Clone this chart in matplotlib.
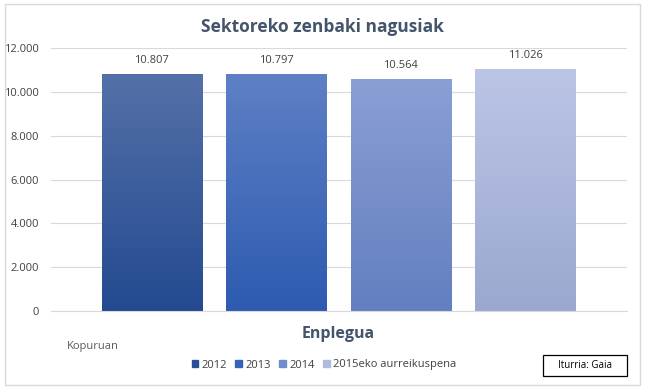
import numpy as np
import matplotlib
matplotlib.use('Agg')
import matplotlib.pyplot as plt
from matplotlib.colors import LinearSegmentedColormap
from matplotlib.patches import Rectangle

plt.rcParams['font.family'] = ['Open Sans', 'DejaVu Sans']

# data
series = ['2012', '2013', '2014', '2015eko aurreikuspena']
values = [10807, 10797, 10564, 11026]
labels = ['10.807', '10.797', '10.564', '11.026']
yticks = [0, 2000, 4000, 6000, 8000, 10000, 12000]
ytick_labels = ['0', '2.000', '4.000', '6.000', '8.000', '10.000', '12.000']

# gradient colours (top, bottom) for every bar
top_cols = ['#5470a8', '#5e80c5', '#8a9fd4', '#bcc5e6']
bot_cols = ['#234a90', '#2d5bb0', '#627fc0', '#9aa8cf']
legend_cols = ['#2a4f95', '#3563b8', '#6f8bcb', '#b0bbdf']

W, H = 645, 387
fig = plt.figure(figsize=(W / 100, H / 100), dpi=100)
fig.patch.set_facecolor('white')

# outer chart border
fig.patches.append(Rectangle((5 / W, 2 / H), 635 / W, 381 / H, transform=fig.transFigure,
                             fill=False, edgecolor='#d9d9d9', linewidth=1))

ax = fig.add_axes([51 / W, (H - 311) / H, 576 / W, 263 / H])

x = np.arange(len(values))
bars = ax.bar(x, values, width=0.805, color='none', edgecolor='none', zorder=2)
for i, b in enumerate(bars):
    cmap = LinearSegmentedColormap.from_list('g%d' % i, [bot_cols[i], top_cols[i]])
    grad = np.linspace(0, 1, 256).reshape(-1, 1)
    im = ax.imshow(grad, cmap=cmap, origin='lower', aspect='auto', zorder=2,
                   extent=[b.get_x(), b.get_x() + b.get_width(), 0, b.get_height()])
    im.set_clip_path(b)
    ax.text(b.get_x() + b.get_width() / 2, b.get_height() + 640, labels[i],
            ha='center', va='center', fontsize=8, color='#404040')

ax.set_xlim(-0.81, 3.82)
ax.set_ylim(0, 12000)
ax.set_yticks(yticks)
ax.set_yticklabels(ytick_labels, fontsize=8, color='#404040')
ax.set_xticks([])
ax.tick_params(axis='y', length=0, pad=8.5)
ax.grid(axis='y', color='#d9d9d9', linewidth=0.8, zorder=0)
ax.set_axisbelow(True)
for s in ['top', 'right', 'left']:
    ax.spines[s].set_visible(False)
ax.spines['bottom'].set_color('#d9d9d9')

fig.text(322 / W, 1 - 27 / H, 'Sektoreko zenbaki nagusiak', ha='center', va='center',
         fontsize=12.5, fontweight='bold', color='#44546a')
fig.text(338 / W, 1 - 334 / H, 'Enplegua', ha='center', va='center',
         fontsize=11.5, fontweight='bold', color='#44546a')
fig.text(67 / W, 1 - 347 / H, 'Kopuruan', ha='left', va='center',
         fontsize=8, color='#595959')

handles = [Rectangle((0, 0), 1, 1, color=c) for c in legend_cols]
fig.legend(handles, series, loc='center', bbox_to_anchor=(324 / W, 1 - 365 / H), ncol=4,
           frameon=False, fontsize=8, handlelength=0.6, handleheight=0.6,
           handletextpad=0.3, columnspacing=0.75, labelcolor='#404040')

fig.text(585 / W, 1 - 366 / H, 'Iturria: Gaia', ha='center', va='center', fontsize=7,
         color='black')
fig.patches.append(Rectangle((543 / W, 1 - 376 / H), 84 / W, 21 / H, transform=fig.transFigure,
                             fill=False, edgecolor='black', linewidth=0.9))

fig.savefig('out.png', dpi=100)
